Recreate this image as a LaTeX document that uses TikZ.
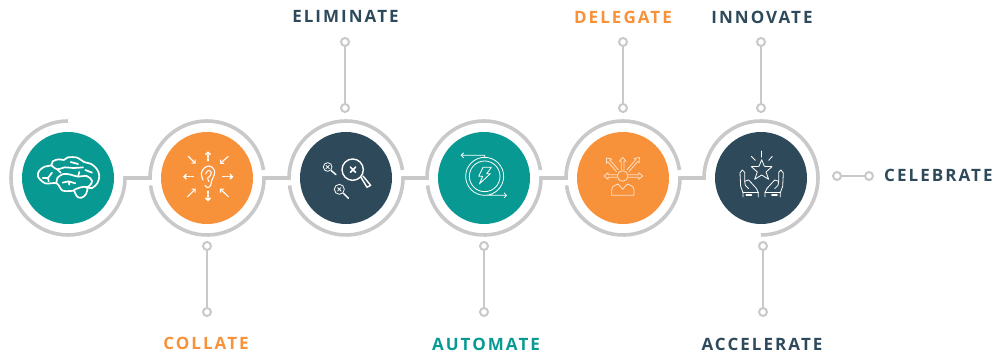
\documentclass[tikz,border=0pt]{standalone}
\usepackage{fontspec}
\setmainfont{Open Sans}[LetterSpace=12]
\usetikzlibrary{arrows.meta}
\definecolor{ringc}{HTML}{C9C9C9}
\definecolor{tealc}{HTML}{089A92}
\definecolor{orangec}{HTML}{F8923A}
\definecolor{darkc}{HTML}{2E4A5A}
\tikzset{
  x=1pt,y=1pt,
  disc/.style={circle,minimum size=92pt,inner sep=0pt,fill=#1},
  ring/.style={draw=ringc,line width=3.6pt,line join=miter},
  stem/.style={draw=ringc,line width=2.6pt},
  endpt/.style={circle,draw=ringc,line width=2pt,fill=white,minimum size=8pt,inner sep=0pt},
  lab/.style={font=\fontsize{17}{19}\selectfont\bfseries,text=#1,inner sep=0pt},
  ico/.style={draw=white,line width=.8pt,line cap=round,line join=round},
  icothick/.style={draw=white,line width=1.4pt,line cap=round,line join=round},
  brainline/.style={draw=white,line width=1.7pt,line cap=round,line join=round},
  zoomed/.style={shift={(#1)},x=.3333pt,y=-.3333pt},
  tip/.style={-{Straight Barb[length=2.4pt,width=5pt]}}
}
\newcommand{\blockarrow}[4]{%
  \begin{scope}[shift={(#1,#2)},rotate=#3]
    \draw[ico,draw=white!72!orangec] (0,-4) -- (#4-12,-4) -- (#4-12,-10) -- (#4,0) -- (#4-12,10) -- (#4-12,4) -- (0,4);
  \end{scope}}
\begin{document}
\begin{tikzpicture}
\useasboundingbox (0,0) rectangle (995,355);
% discs (y up: Y=355-py)
\node[disc=tealc]   (c1) at (68,177) {};
\node[disc=orangec] (c2) at (207,177) {};
\node[disc=darkc]   (c3) at (346,177) {};
\node[disc=tealc]   (c4) at (484,177) {};
\node[disc=orangec] (c5) at (623,177) {};
\node[disc=darkc]   (c6) at (761,177) {};
\foreach \i in {2,...,6}{\coordinate (L\i) at ([xshift=-57pt]c\i.center);}
\coordinate (T1) at ([yshift=57pt]c1.center);
% rings and junctions
\draw[ring] (T1) arc[start angle=90,end angle=360,radius=57] -- (L2) arc[start angle=180,end angle=8,radius=57];
\draw[ring] ([shift={(187.5:57)}]c2.center) arc[start angle=187.5,end angle=360,radius=57] -- (L3) arc[start angle=180,end angle=8,radius=57];
\draw[ring] ([shift={(187.5:57)}]c3.center) arc[start angle=187.5,end angle=360,radius=57] -- (L4) arc[start angle=180,end angle=8,radius=57];
\draw[ring] ([shift={(187.5:57)}]c4.center) arc[start angle=187.5,end angle=360,radius=57] -- (L5) arc[start angle=180,end angle=8,radius=57];
\draw[ring] ([shift={(187.5:57)}]c5.center) arc[start angle=187.5,end angle=360,radius=57] -- (L6) arc[start angle=180,end angle=-90,radius=57];
% stems
\node[endpt] (s3a) at (345,313) {}; \node[endpt] (s3b) at (345,247) {};
\node[endpt] (s5a) at (623,313) {}; \node[endpt] (s5b) at (623,247) {};
\node[endpt] (s6a) at (761,313) {}; \node[endpt] (s6b) at (761,247) {};
\node[endpt] (s2a) at (207,109) {}; \node[endpt] (s2b) at (207,43) {};
\node[endpt] (s4a) at (484,109) {}; \node[endpt] (s4b) at (484,43) {};
\node[endpt] (s7a) at (763,109) {}; \node[endpt] (s7b) at (763,43) {};
\node[endpt] (s8a) at (837,179) {}; \node[endpt] (s8b) at (869,179) {};
\foreach \p in {s2,s3,s4,s5,s6,s7,s8}{\draw[stem] (\p a) -- (\p b);}
% labels
\node[lab=darkc]   (t3) at (345.5,339) {ELIMINATE};
\node[lab=orangec] (t5) at (623,338) {DELEGATE};
\node[lab=darkc]   (t6) at (762,338) {INNOVATE};
\node[lab=orangec] (t2) at (206,12) {COLLATE};
\node[lab=tealc]   (t4) at (486,11) {AUTOMATE};
\node[lab=darkc]   (t7) at (762,11) {ACCELERATE};
\node[lab=darkc,anchor=west] (t8) at (884,180) {CELEBRATE};
% brain icon
\begin{scope}[zoomed={28,207}]
\draw[brainline] plot[smooth,tension=.55] coordinates {(138,128) (104,128) (86,106) (52,106) (30,86) (34,68) (50,56) (70,52) (74,40) (92,34) (108,36) (120,28) (148,29) (168,42) (190,48) (207,64) (214,84) (208,106) (192,120) (176,118)};
\draw[brainline] plot[smooth,tension=.8] coordinates {(138,126) (150,148) (168,145) (177,130) (176,118) (158,118) (138,126)};
\draw[brainline] plot[smooth,tension=.6] coordinates {(70,52) (88,64) (110,58) (135,60) (165,58)};
\draw[brainline] plot[smooth,tension=.6] coordinates {(86,106) (88,90) (106,78) (128,80) (150,86) (176,84) (192,98) (186,112) (176,118)};
\draw[brainline] (44,90) -- (60,90) -- (72,74) (60,90) -- (62,100);
\draw[brainline] (104,104) -- (122,100) -- (142,106) (122,100) -- (124,110);
\draw[brainline] (88,64) -- (98,74);
\draw[brainline] (150,86) -- (154,72);
\draw[brainline] (172,66) -- (192,74);
\draw[brainline] (128,42) -- (150,48);
\end{scope}
% ear icon
\begin{scope}[zoomed={175,207}]
\draw[ico,line width=1.1pt] plot[smooth,tension=.6] coordinates {(84,96) (79,76) (88,60) (103,54) (117,64) (118,80) (110,98) (107,112) (98,119) (90,112)};
\draw[ico,line width=1pt] plot[smooth,tension=.7] coordinates {(92,78) (100,67) (109,74) (104,85) (98,90) (102,101)};
\draw[icothick,tip,dash pattern=on 2pt off 1.5pt] (99,38) -- (99,10);
\draw[icothick,tip,dash pattern=on 2pt off 1.5pt] (99,130) -- (99,160);
\draw[icothick,tip,dash pattern=on 2pt off 1.5pt] (55,86) -- (24,86);
\draw[icothick,tip,dash pattern=on 2pt off 1.5pt] (143,86) -- (175,86);
\draw[ico,tip,line width=1.1pt] (40,25) -- (62,47);
\draw[ico,tip,line width=1.1pt] (160,25) -- (135,47);
\draw[ico,tip,line width=1.1pt] (38,146) -- (62,122);
\draw[ico,tip,line width=1.1pt] (160,146) -- (135,122);
\end{scope}
% magnifier icon
\begin{scope}[zoomed={315,207}]
\draw[icothick] (113,65) circle[radius=32];
\draw[icothick] (138,88) -- (156,118) -- (167,112) -- (144,84);
\draw[icothick,line width=1.6pt] (106,57) -- (122,73) (122,57) -- (106,73);
\draw[ico] (38,57) circle[radius=13];
\draw[icothick] (49,68) -- (63,80);
\draw[ico] (33,52) -- (43,62) (43,52) -- (33,62);
\draw[ico] (73,124) circle[radius=15];
\draw[icothick] (85,136) -- (100,151);
\draw[ico] (68,119) -- (78,129) (78,119) -- (68,129);
\end{scope}
% lightning icon
\begin{scope}[zoomed={452,207}]
\draw[ico] (98,85) circle[radius=46];
\draw[ico,tip] (98,28) arc[start angle=-90,end angle=90,radius=57] -- (165,142);
\draw[ico,tip] (98,142) arc[start angle=90,end angle=270,radius=57] -- (98,22) -- (26,22);
\draw[ico] (93,58) -- (118,58) -- (104,77) -- (115,77) -- (82,108) -- (92,85) -- (80,85) -- cycle;
\end{scope}
% delegate icon
\begin{scope}[zoomed={590,207}]
\draw[ico,draw=white!72!orangec] (98,84) circle[radius=16];
\draw[ico,draw=white!72!orangec] (65,142) -- (65,126) .. controls (65,115) and (75,110) .. (84,108) -- (98,124) -- (112,108) .. controls (121,110) and (132,115) .. (132,126) -- (132,142) -- cycle;
\blockarrow{80}{84}{180}{38}
\blockarrow{82}{68}{131}{50}
\blockarrow{98}{66}{90}{38}
\blockarrow{114}{68}{49}{52}
\blockarrow{116}{84}{0}{42}
\end{scope}
% hands and star icon
\begin{scope}[zoomed={728,207}]
\draw[ico] (101,35) -- (109,55) -- (132,56) -- (114,72) -- (122,94) -- (101,81) -- (80,94) -- (88,72) -- (70,56) -- (93,55) -- cycle;
\draw[icothick] (101,10) -- (101,27);
\draw[ico] (70,25) -- (82,37) (133,25) -- (122,37);
\foreach \s/\o in {1/0,-1/202}{
  \begin{scope}[shift={(\o,0)},xscale=\s]
  \draw[ico] (45,147) -- (45,134) -- (38,115) -- (36,75) -- (43,66) -- (50,73) -- (50,100) -- (62,96) -- (85,121) -- (91,134) -- (91,147);
  \draw[ico] (50,100) -- (52,112) -- (62,122);
  \draw[ico] (45,134) -- (91,134);
  \draw[icothick,line width=1.8pt] (55,141) -- (70,141);
  \end{scope}}
\end{scope}
\end{tikzpicture}
\end{document}
